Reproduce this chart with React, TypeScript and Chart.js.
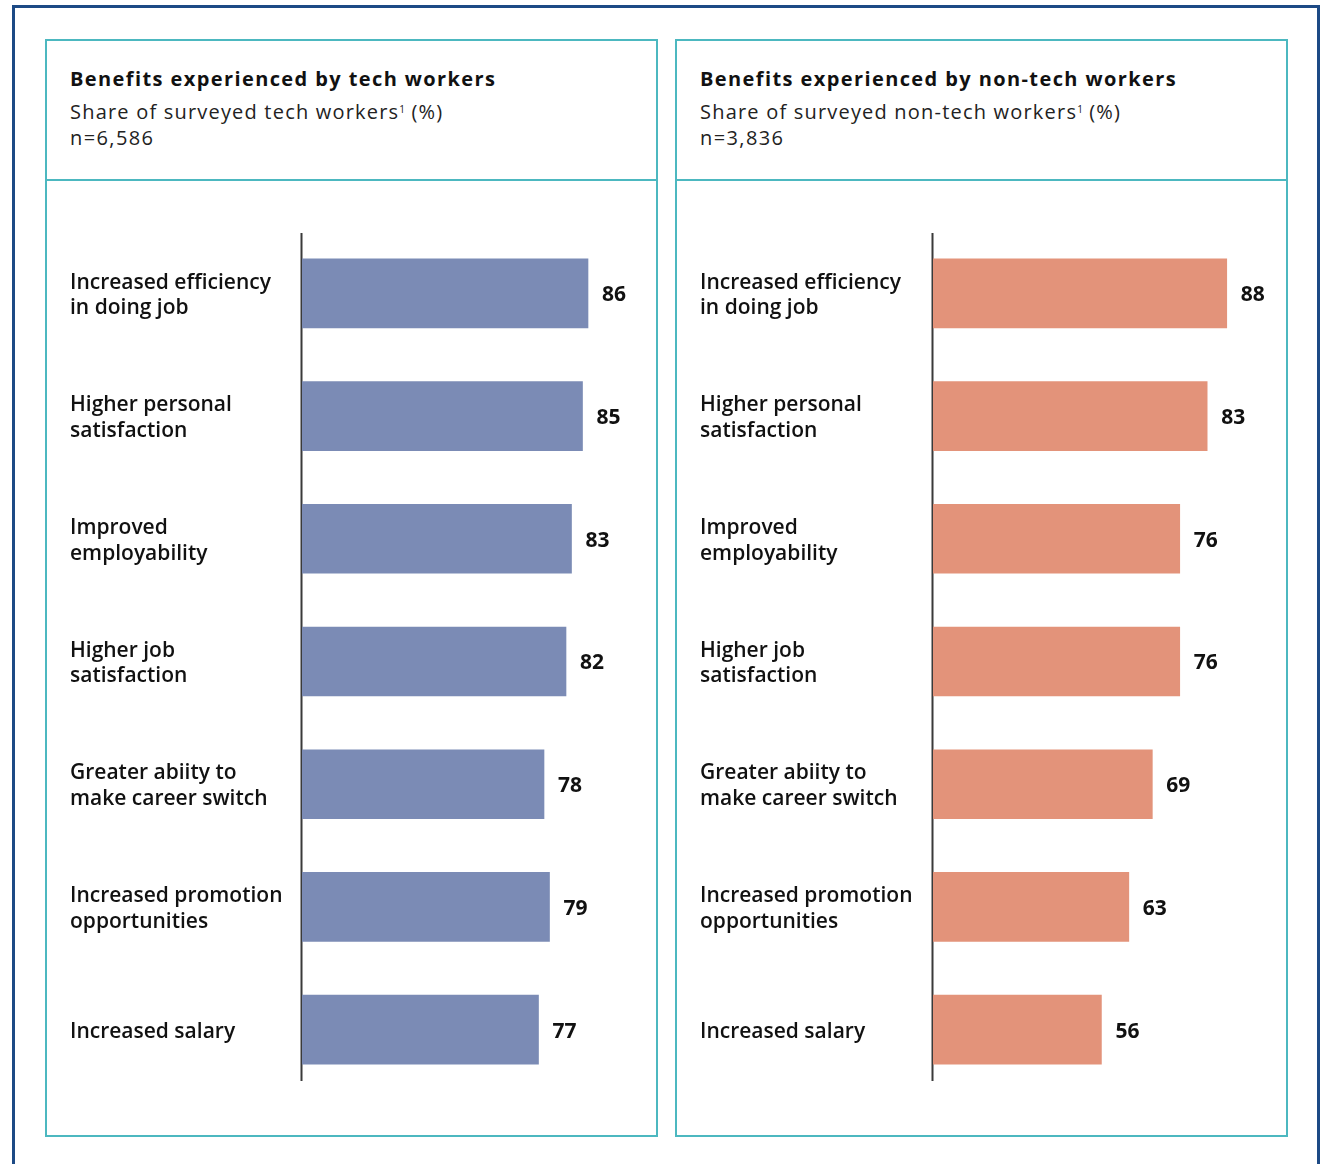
import React, { useEffect, useRef } from "react";
import { Chart, registerables } from "chart.js";

Chart.register(...registerables);

const categories: string[][] = [
  ["Increased efficiency", "in doing job"],
  ["Higher personal", "satisfaction"],
  ["Improved", "employability"],
  ["Higher job", "satisfaction"],
  ["Greater abiity to", "make career switch"],
  ["Increased promotion", "opportunities"],
  ["Increased salary"],
];

const techValues = [86, 85, 83, 82, 78, 79, 77];
const nonTechValues = [88, 83, 76, 76, 69, 63, 56];

const techTitle = "Benefits experienced by tech workers";
const techSubtitle = "Share of surveyed tech workers";
const techN = "n=6,586";
const nonTechTitle = "Benefits experienced by non-tech workers";
const nonTechSubtitle = "Share of surveyed non-tech workers";
const nonTechN = "n=3,836";

const FONT = "'Open Sans', sans-serif";

const valueLabelPlugin = {
  id: "valueLabels",
  beforeDatasetsDraw(chart: any) {
    const ctx = chart.ctx;
    const a = chart.chartArea;
    ctx.save();
    ctx.strokeStyle = "#3a3a3a";
    ctx.lineWidth = 2;
    ctx.beginPath();
    ctx.moveTo(a.left - 0.5, a.top + 1);
    ctx.lineTo(a.left - 0.5, a.bottom - 10);
    ctx.stroke();
    ctx.restore();
  },
  afterDatasetsDraw(chart: any) {
    const ctx = chart.ctx;
    const meta = chart.getDatasetMeta(0);
    const data = chart.data.datasets[0].data;
    ctx.save();
    ctx.font = `700 21px ${FONT}`;
    ctx.fillStyle = "#111111";
    ctx.textAlign = "left";
    ctx.textBaseline = "middle";
    meta.data.forEach((bar: any, i: number) => {
      ctx.fillText(String(data[i]), bar.x + 14, bar.y + 2);
    });
    ctx.restore();
  },
};

function BarPanel(props: {
  values: number[];
  color: string;
  min: number;
  max: number;
  axisWidth: number;
}) {
  const ref = useRef<HTMLCanvasElement>(null);
  useEffect(() => {
    if (!ref.current) return;
    const chart = new Chart(ref.current, {
      type: "bar",
      data: {
        labels: categories,
        datasets: [
          {
            data: props.values,
            backgroundColor: props.color,
            borderWidth: 0,
            barThickness: 69,
          },
        ],
      },
      options: {
        indexAxis: "y",
        animation: false,
        responsive: false,
        maintainAspectRatio: false,
        layout: { padding: { left: 23, right: 24, top: 51, bottom: 44 } },
        plugins: {
          legend: { display: false },
          tooltip: { enabled: false },
          title: { display: false },
        },
        scales: {
          x: {
            display: false,
            min: props.min,
            max: props.max,
            grid: { display: false },
          },
          y: {
            grid: { display: false, drawTicks: false },
            border: { display: false },
            afterFit: (scale: any) => {
              scale.width = props.axisWidth;
            },
            ticks: {
              crossAlign: "far",
              padding: 0,
              labelOffset: 2,
              color: "#111111",
              font: { family: FONT, size: 21, weight: 600, lineHeight: 1.22 },
            },
          },
        },
      },
      plugins: [valueLabelPlugin],
    });
    return () => chart.destroy();
  }, []);
  return (
    <canvas
      ref={ref}
      width={609}
      height={954}
      style={{ position: "absolute", left: 0, top: 140, width: 609, height: 954 }}
    />
  );
}

function Panel(props: {
  left: number;
  title: string;
  subtitle: string;
  n: string;
  values: number[];
  color: string;
  min: number;
  max: number;
  axisWidth: number;
}) {
  const textStyle: React.CSSProperties = {
    position: "absolute",
    left: 23,
    fontFamily: FONT,
    fontSize: 20,
    lineHeight: "26px",
    color: "#111111",
    whiteSpace: "nowrap",
  };
  return (
    <div
      style={{
        position: "absolute",
        left: props.left,
        top: 39,
        width: 609,
        height: 1094,
        border: "2px solid #4cb8c0",
      }}
    >
      <div style={{ ...textStyle, top: 25, fontWeight: 700, letterSpacing: "1.4px" }}>{props.title}</div>
      <div style={{ ...textStyle, top: 55, letterSpacing: "1.2px", color: "#222222" }}>
        {props.subtitle}
        <sup style={{ fontSize: 10, verticalAlign: "6px", letterSpacing: 0 }}>1</sup> (%)
      </div>
      <div style={{ ...textStyle, top: 84, letterSpacing: "1.4px", color: "#222222" }}>{props.n}</div>
      <div
        style={{
          position: "absolute",
          left: 0,
          top: 138,
          width: 609,
          height: 2,
          background: "#4cb8c0",
        }}
      />
      <BarPanel
        values={props.values}
        color={props.color}
        min={props.min}
        max={props.max}
        axisWidth={props.axisWidth}
      />
    </div>
  );
}

export default function App() {
  return (
    <div style={{ position: "relative", width: 1324, height: 1164, overflow: "hidden", background: "#ffffff" }}>
      <style>{`body{margin:0}`}</style>
      <div
        style={{
          position: "absolute",
          left: 12,
          top: 5,
          width: 1302,
          height: 1200,
          border: "3px solid #1d4a85",
        }}
      />
      <Panel
        left={45}
        title={techTitle}
        subtitle={techSubtitle}
        n={techN}
        values={techValues}
        color="#7b8bb5"
        min={34}
        max={94}
        axisWidth={232}
      />
      <Panel
        left={675}
        title={nonTechTitle}
        subtitle={nonTechSubtitle}
        n={nonTechN}
        values={nonTechValues}
        color="#e3937a"
        min={13}
        max={97}
        axisWidth={233}
      />
    </div>
  );
}
